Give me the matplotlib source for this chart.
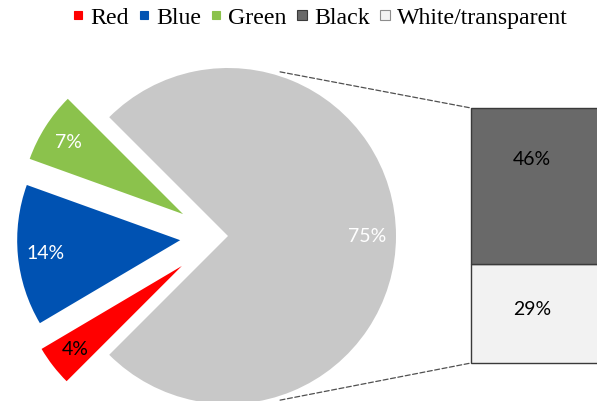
import math
import matplotlib
matplotlib.use("Agg")
import matplotlib.pyplot as plt
from matplotlib.lines import Line2D
from matplotlib.patches import ConnectionPatch

# Pie: the combined Black + White/transparent share, then the coloured caps
pie_labels = ["Black + White/transparent", "Green", "Blue", "Red"]
pie_values = [75, 7, 14, 4]
pie_colors = ["#c8c8c8", "#8bc24c", "#0052b2", "#ff0000"]
pie_text_colors = ["white", "white", "white", "black"]

# Breakdown bar of the combined share (bottom to top)
bar_labels = ["White/transparent", "Black"]
bar_values = [29, 46]
bar_colors = ["#f2f2f2", "#696969"]

legend_labels = ["Red", "Blue", "Green", "Black", "White/transparent"]
legend_colors = ["#ff0000", "#0052b2", "#8bc24c", "#696969", "#f2f2f2"]
legend_edges = ["#ff0000", "#0052b2", "#8bc24c", "#3a3a3a", "#8c8c8c"]
legend_sizes = [5.6, 5.6, 5.6, 7.2, 7.2]

W, H = 597, 402
fig = plt.figure(figsize=(W / 100, H / 100), dpi=100)

label_font = dict(family=["Lato", "DejaVu Sans"], size=14)

# ---- pie ----
ax = fig.add_axes([0, 0, 1, 1])
cx, cy, R = 228, 165, 168
wedges, texts, autotexts = ax.pie(
    pie_values,
    colors=pie_colors,
    startangle=-135,
    counterclock=True,
    center=(cx, cy),
    radius=R,
    autopct="%d%%",
    pctdistance=0.83,
    wedgeprops=dict(linewidth=0),
    textprops=label_font,
)
for t, c in zip(autotexts, pie_text_colors):
    t.set_color(c)

# pull the coloured wedges out of the pie: (distance, direction in degrees)
pull = {1: (50, 154), 2: (48, 185), 3: (55, 213)}
small_r = 163
for i, (dist, direc) in pull.items():
    w = wedges[i]
    a = math.radians(direc)
    wx, wy = cx + dist * math.cos(a), cy + dist * math.sin(a)
    w.set_center((wx, wy))
    w.set_radius(small_r)
    mid = math.radians((w.theta1 + w.theta2) / 2)
    autotexts[i].set_position((wx + 0.83 * small_r * math.cos(mid),
                               wy + 0.83 * small_r * math.sin(mid)))

ax.set_xlim(0, W)
ax.set_ylim(0, H)
ax.set_aspect("equal")
ax.axis("off")

# ---- stacked breakdown bar ----
bar_left, bar_top, bar_bottom = 471, 109, 364
bax = fig.add_axes([bar_left / W, (H - bar_bottom) / H, 0.3,
                    (bar_bottom - bar_top) / H])
total = sum(bar_values)
bottom = 0
label_frac = [0.55, 0.68]
for val, col, lf in zip(bar_values, bar_colors, label_frac):
    bax.bar(0, val, width=1, bottom=bottom, align="edge", color=col,
            edgecolor="#3a3a3a", linewidth=1.0, clip_on=False)
    bax.text(0.34, bottom + lf * val, f"{val}%", ha="center", va="center",
             color="black", **label_font)
    bottom += val
bax.set_xlim(0, 1)
bax.set_ylim(0, total)
bax.axis("off")

# ---- dashed connectors from the grey wedge to the bar ----
ang = math.radians(72.4)
for sign, yb in ((1, total), (-1, 0)):
    con = ConnectionPatch(
        xyA=(cx + 1.025 * R * math.cos(ang), cy + sign * 1.025 * R * math.sin(ang)),
        coordsA=ax.transData,
        xyB=(0, yb),
        coordsB=bax.transData,
        color="#505050",
        linewidth=0.9,
        linestyle=(0, (4, 2)),
    )
    fig.add_artist(con)

# ---- legend ----
handles = [Line2D([], [], linestyle="none", marker="s", markersize=ms,
                  markerfacecolor=fc, markeredgecolor=ec, markeredgewidth=0.8)
           for fc, ec, ms in zip(legend_colors, legend_edges, legend_sizes)]
fig.legend(
    handles, legend_labels,
    loc="center",
    bbox_to_anchor=(320 / W, 1 - 18 / H),
    ncol=5,
    frameon=False,
    prop=dict(family="Liberation Serif", size=17.2),
    handlelength=0.5,
    handletextpad=0.25,
    columnspacing=0.4,
    borderpad=0,
    borderaxespad=0,
)

fig.savefig("out.png", dpi=100)
